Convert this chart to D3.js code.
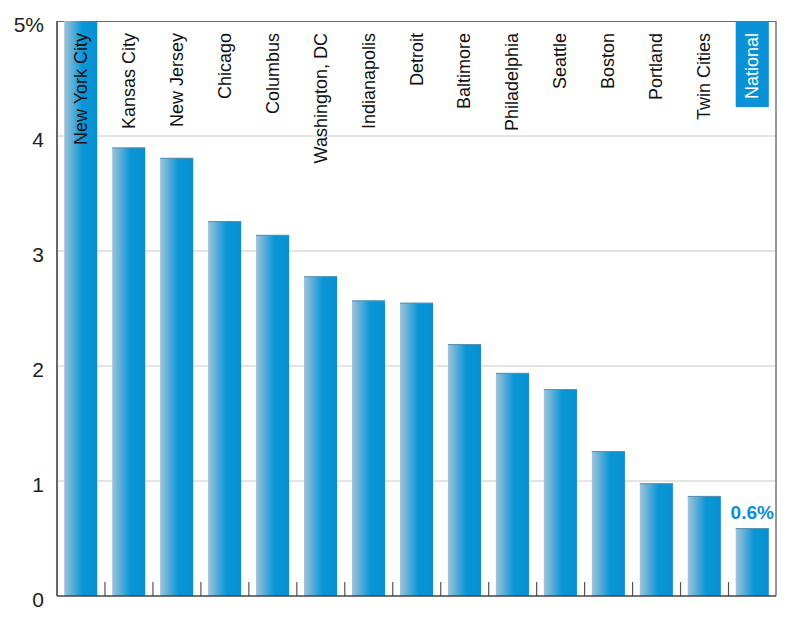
<!DOCTYPE html>
<html>
<head>
<meta charset="utf-8">
<script src="https://cdn.jsdelivr.net/npm/d3@7"></script>
<style>
  body { margin: 0; background: #fff; }
  svg { display: block; }
</style>
</head>
<body>
<div id="chart"></div>
<script>
// 城市与数值 (%)
var cities = ['New York City','Kansas City','New Jersey','Chicago','Columbus','Washington, DC',
              'Indianapolis','Detroit','Baltimore','Philadelphia','Seattle','Boston','Portland',
              'Twin Cities','National'];
var values = [5.0, 3.90, 3.81, 3.26, 3.14, 2.78, 2.57, 2.55, 2.19, 1.94, 1.80, 1.26, 0.98, 0.87, 0.59];
var yTicks = [0, 1, 2, 3, 4, 5];
var highlightLabel = '0.6%';

var width = 800, height = 620;
var margin = {left: 57, right: 24, top: 21, bottom: 24};
var innerW = width - margin.left - margin.right;
var innerH = height - margin.top - margin.bottom;

var svg = d3.select('#chart').append('svg')
    .attr('width', width).attr('height', height);

// 渐变
var defs = svg.append('defs');
var grad = defs.append('linearGradient').attr('id', 'barGrad')
    .attr('x1', '0%').attr('x2', '100%').attr('y1', '0%').attr('y2', '0%');
grad.append('stop').attr('offset', '0%').attr('stop-color', '#a2c3d9');
grad.append('stop').attr('offset', '55%').attr('stop-color', '#0896d6');
grad.append('stop').attr('offset', '100%').attr('stop-color', '#0a90d2');

var x = d3.scaleBand().domain(cities).range([0, innerW]).paddingInner(0.31).paddingOuter(0.15);
var y = d3.scaleLinear().domain([0, 5]).range([innerH, 0]);

var g = svg.append('g').attr('transform', 'translate(' + margin.left + ',' + margin.top + ')');

// 网格线
g.selectAll('line.grid').data(yTicks.slice(1, -1)).enter().append('line')
    .attr('x1', 0).attr('x2', innerW)
    .attr('y1', function(d){ return y(d); }).attr('y2', function(d){ return y(d); })
    .attr('stroke', '#c8c8c8').attr('stroke-width', 1);

// 外框 (上/右)
g.append('line').attr('x1', 0).attr('x2', innerW).attr('y1', 0.5).attr('y2', 0.5)
    .attr('stroke', '#666').attr('stroke-width', 1.2);
g.append('line').attr('x1', innerW).attr('x2', innerW).attr('y1', 0).attr('y2', innerH)
    .attr('stroke', '#777').attr('stroke-width', 1.5);

// 柱子
g.selectAll('rect.bar').data(values).enter().append('rect')
    .attr('x', function(d, i){ return x(cities[i]); })
    .attr('y', function(d){ return y(d); })
    .attr('width', x.bandwidth())
    .attr('height', function(d){ return innerH - y(d); })
    .attr('fill', 'url(#barGrad)');
g.selectAll('line.bartop').data(values.slice(1)).enter().append('line')
    .attr('x1', function(d, i){ return x(cities[i + 1]); })
    .attr('x2', function(d, i){ return x(cities[i + 1]) + x.bandwidth(); })
    .attr('y1', function(d){ return y(d) + 0.5; })
    .attr('y2', function(d){ return y(d) + 0.5; })
    .attr('stroke', '#5a8fb0').attr('stroke-width', 1);

// 底部刻度
var step = x.step();
g.selectAll('line.tick').data(d3.range(1, cities.length)).enter().append('line')
    .attr('x1', function(i){ return i * step; }).attr('x2', function(i){ return i * step; })
    .attr('y1', innerH).attr('y2', innerH - 14)
    .attr('stroke', '#555').attr('stroke-width', 1.2);

// 坐标轴
g.append('line').attr('x1', 0).attr('x2', 0).attr('y1', 0).attr('y2', innerH)
    .attr('stroke', '#666').attr('stroke-width', 2);
g.append('line').attr('x1', 0).attr('x2', innerW).attr('y1', innerH).attr('y2', innerH)
    .attr('stroke', '#444').attr('stroke-width', 1.5);

// Y 轴标签
g.selectAll('text.ylab').data(yTicks).enter().append('text')
    .attr('x', -13)
    .attr('y', function(d){ return y(d) + 11; })
    .attr('text-anchor', 'end')
    .attr('font-family', 'Liberation Sans, Arial, sans-serif')
    .attr('font-size', 21)
    .attr('fill', '#222')
    .text(function(d){ return d === 5 ? '5%' : d; });

// National 背景框
var last = cities[cities.length - 1];
g.append('rect').attr('x', x(last)).attr('y', 0)
    .attr('width', x.bandwidth()).attr('height', 86)
    .attr('fill', '#0a91d6');

// 城市标签 (竖排)
g.selectAll('text.city').data(cities).enter().append('text')
    .attr('transform', function(d){
        return 'translate(' + (x(d) + x.bandwidth() / 2 + 6) + ',12) rotate(-90)';
    })
    .attr('text-anchor', 'end')
    .attr('font-family', 'Liberation Sans Narrow, Arial Narrow, sans-serif')
    .attr('font-size', 18)
    .attr('fill', function(d, i){ return i === cities.length - 1 ? '#fff' : '#111'; })
    .text(function(d){ return d; });

// 0.6% 标签
g.append('text')
    .attr('x', x(last) + x.bandwidth() / 2)
    .attr('y', y(values[values.length - 1]) - 9)
    .attr('text-anchor', 'middle')
    .attr('font-family', 'Liberation Sans Narrow, Arial Narrow, sans-serif')
    .attr('font-weight', 'bold')
    .attr('font-size', 19)
    .attr('fill', '#0a8fd4')
    .text(highlightLabel);
</script>
</body>
</html>
